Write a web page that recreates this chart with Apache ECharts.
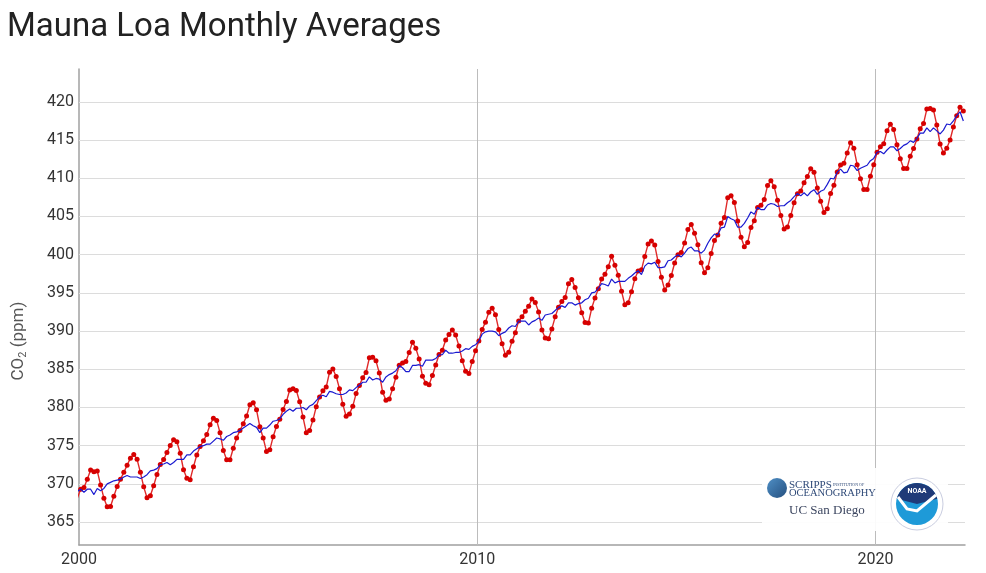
<!DOCTYPE html>
<html>
<head>
<meta charset="utf-8">
<title>Mauna Loa Monthly Averages</title>
<script src="https://cdn.jsdelivr.net/npm/echarts@6/dist/echarts.min.js"></script>
<style>
  html, body { margin: 0; padding: 0; background: #fff; }
  #chart { width: 986px; height: 573px; }
</style>
</head>
<body>
<div id="chart"></div>
<script>
// first month shown is Dec 1999, one value per month up to Mar 2022
const startYear = 1999
const startMonth = 12

// monthly mean CO2 (ppm), red line with dots
const monthlyMean = [
  368.15,
  369.29, 369.54, 370.60, 371.82, 371.58, 371.70, 369.86, 368.13, 367.00, 367.03, 368.37, 369.67, // 2000
  370.59, 371.51, 372.43, 373.37, 373.85, 373.21, 371.51, 369.61, 368.18, 368.45, 369.76, 371.24, // 2001
  372.53, 373.20, 374.12, 375.02, 375.76, 375.52, 374.01, 371.85, 370.75, 370.55, 372.25, 373.79, // 2002
  374.88, 375.64, 376.45, 377.73, 378.60, 378.28, 376.70, 374.38, 373.17, 373.15, 374.66, 375.99, // 2003
  377.00, 377.87, 378.88, 380.35, 380.62, 379.69, 377.47, 376.01, 374.25, 374.46, 376.16, 377.51, // 2004
  378.46, 379.73, 380.77, 382.29, 382.45, 382.21, 380.74, 378.74, 376.70, 377.00, 378.35, 380.11, // 2005
  381.38, 382.19, 382.67, 384.61, 385.03, 384.05, 382.46, 380.41, 378.85, 379.13, 380.15, 381.82, // 2006
  382.89, 383.90, 384.58, 386.50, 386.56, 386.10, 384.50, 381.99, 380.96, 381.12, 382.45, 383.95, // 2007
  385.52, 385.82, 386.03, 387.21, 388.54, 387.76, 386.36, 384.09, 383.18, 382.99, 384.19, 385.56, // 2008
  386.94, 387.48, 388.82, 389.55, 390.14, 389.48, 388.03, 386.11, 384.74, 384.43, 386.02, 387.42, // 2009
  388.71, 390.20, 391.17, 392.46, 393.00, 392.15, 390.20, 388.35, 386.85, 387.24, 388.67, 389.79, // 2010
  391.33, 391.86, 392.60, 393.25, 394.19, 393.74, 392.51, 390.13, 389.08, 389.00, 390.28, 391.86, // 2011
  393.12, 393.86, 394.40, 396.18, 396.74, 395.71, 394.36, 392.39, 391.11, 391.05, 392.98, 394.34, // 2012
  395.55, 396.80, 397.43, 398.41, 399.78, 398.60, 397.32, 395.20, 393.45, 393.70, 395.16, 396.84, // 2013
  397.85, 398.01, 399.77, 401.38, 401.78, 401.25, 399.10, 397.03, 395.38, 396.03, 397.28, 398.91, // 2014
  399.98, 400.28, 401.54, 403.28, 403.96, 402.80, 401.31, 398.93, 397.63, 398.29, 400.16, 401.85, // 2015
  402.56, 404.12, 404.87, 407.45, 407.72, 406.83, 404.41, 402.27, 401.05, 401.59, 403.55, 404.45, // 2016
  406.17, 406.46, 407.22, 409.04, 409.69, 408.88, 407.12, 405.13, 403.37, 403.63, 405.12, 406.81, // 2017
  407.96, 408.32, 409.41, 410.24, 411.24, 410.79, 408.71, 406.99, 405.51, 406.00, 408.02, 409.07, // 2018
  410.83, 411.75, 411.97, 413.32, 414.66, 413.92, 411.77, 409.95, 408.54, 408.53, 410.27, 411.76, // 2019
  413.40, 414.11, 414.51, 416.21, 417.07, 416.39, 414.38, 412.55, 411.29, 411.28, 412.89, 413.89, // 2020
  415.15, 416.47, 417.16, 419.05, 419.13, 418.94, 416.96, 414.47, 413.30, 413.93, 415.01, 416.71, // 2021
  418.19, 419.28, 418.81                                                                          // 2022
]

// seasonally adjusted values, blue line
const deseasonalized = [
  369.0,
  369.3, 368.9, 369.3, 369.3, 368.6, 369.4, 369.1, 369.4, 370.0, 370.2, 370.4, 370.5, // 2000
  370.6, 370.9, 371.1, 370.9, 370.9, 370.9, 370.7, 370.9, 371.2, 371.7, 371.8, 372.0, // 2001
  372.5, 372.6, 372.8, 372.5, 372.8, 373.2, 373.2, 373.2, 373.8, 373.8, 374.3, 374.6, // 2002
  374.9, 375.0, 375.2, 375.2, 375.6, 376.0, 375.9, 375.7, 376.2, 376.4, 376.7, 376.8, // 2003
  377.0, 377.3, 377.6, 377.9, 377.6, 377.4, 376.7, 377.3, 377.3, 377.7, 378.2, 378.3, // 2004
  378.5, 379.1, 379.5, 379.8, 379.5, 379.9, 379.9, 380.0, 379.7, 380.2, 380.4, 380.9, // 2005
  381.4, 381.6, 381.4, 382.1, 382.0, 381.8, 381.7, 381.7, 381.9, 382.3, 382.2, 382.6, // 2006
  382.9, 383.3, 383.3, 384.0, 383.6, 383.8, 383.7, 383.3, 384.0, 384.3, 384.5, 384.8, // 2007
  385.5, 385.2, 384.7, 384.7, 385.5, 385.5, 385.6, 385.4, 386.2, 386.2, 386.2, 386.4, // 2008
  386.9, 386.9, 387.5, 387.1, 387.1, 387.2, 387.2, 387.4, 387.7, 387.6, 388.0, 388.2, // 2009
  388.7, 389.6, 389.9, 390.0, 390.0, 389.9, 389.4, 389.7, 389.9, 390.4, 390.7, 390.6, // 2010
  391.3, 391.3, 391.3, 390.8, 391.2, 391.4, 391.7, 391.4, 392.1, 392.2, 392.3, 392.7, // 2011
  393.1, 393.3, 393.1, 393.7, 393.7, 393.4, 393.6, 393.7, 394.1, 394.3, 395.0, 395.1, // 2012
  395.6, 396.2, 396.1, 395.9, 396.8, 396.3, 396.5, 396.5, 396.5, 396.9, 397.2, 397.6, // 2013
  397.9, 397.4, 398.5, 398.9, 398.8, 399.0, 398.3, 398.3, 398.4, 399.2, 399.3, 399.7, // 2014
  400.0, 399.7, 400.2, 400.8, 401.0, 400.5, 400.5, 400.2, 400.6, 401.5, 402.2, 402.7, // 2015
  402.6, 403.5, 403.6, 405.0, 404.7, 404.5, 403.6, 403.6, 404.1, 404.8, 405.6, 405.3, // 2016
  406.2, 405.9, 405.9, 406.5, 406.7, 406.6, 406.3, 406.4, 406.4, 406.8, 407.1, 407.6, // 2017
  408.0, 407.7, 408.1, 407.7, 408.2, 408.5, 407.9, 408.3, 408.5, 409.2, 410.0, 409.9, // 2018
  410.8, 411.2, 410.7, 410.8, 411.7, 411.6, 411.0, 411.3, 411.5, 411.7, 412.3, 412.6, // 2019
  413.4, 413.5, 413.2, 413.7, 414.1, 414.1, 413.6, 413.9, 414.3, 414.5, 414.9, 414.7, // 2020
  415.2, 415.9, 415.9, 416.6, 416.1, 416.6, 416.2, 415.8, 416.3, 417.1, 417.0, 417.5, // 2021
  418.2, 418.7, 417.5                                                                 // 2022
]

const yTicks = [365, 370, 375, 380, 385, 390, 395, 400, 405, 410, 415, 420]
const xTicks = [2000, 2010, 2020]
const xGridYears = [2010, 2020]

// mid-month decimal dates
const dates = monthlyMean.map((_, i) => startYear + (startMonth - 1 + i + 0.5) / 12)
const redData = monthlyMean.map((v, i) => [dates[i], v])
const blueData = deseasonalized.map((v, i) => [dates[i], v])

const FONT = 'Roboto, "Noto Sans", sans-serif'
const SERIF = '"Liberation Serif", "DejaVu Serif", serif'

const chart = echarts.init(document.getElementById('chart'), null, { renderer: 'canvas' })

chart.setOption({
  animation: false,
  backgroundColor: '#fff',
  title: {
    text: 'Mauna Loa Monthly Averages',
    left: 2,
    top: 6,
    textStyle: { fontFamily: FONT, fontSize: 33, fontWeight: 'normal', color: '#222' },
  },
  grid: { left: 79, right: 21, top: 69, bottom: 28, containLabel: false },
  xAxis: {
    type: 'value',
    min: 2000,
    max: 2022.25,
    axisLine: { lineStyle: { color: '#a0a0a0', width: 1.5 } },
    axisTick: { show: false },
    splitLine: { show: false },
    axisLabel: {
      customValues: xTicks,
      formatter: v => String(v),
      color: '#333',
      fontFamily: FONT,
      fontSize: 16,
      margin: 7,
    },
  },
  yAxis: {
    type: 'value',
    min: 362,
    max: 424.3,
    axisLine: { show: true, lineStyle: { color: '#a0a0a0', width: 1.5 } },
    axisTick: { show: false },
    splitLine: { show: false },
    axisLabel: {
      customValues: yTicks,
      color: '#333',
      fontFamily: FONT,
      fontSize: 16,
      margin: 5,
    },
  },
  series: [
    {
      // grid lines only
      type: 'line',
      data: [],
      silent: true,
      markLine: {
        silent: true,
        z: 1,
        animation: false,
        symbol: ['none', 'none'],
        label: { show: false },
        lineStyle: { color: '#dcdcdc', width: 1, type: 'solid' },
        emphasis: { disabled: true },
        data: yTicks.map(v => ({ yAxis: v }))
          .concat(xGridYears.map(v => ({ xAxis: v, lineStyle: { color: '#bcbcbc', width: 1, type: 'solid' } }))),
      },
    },
    {
      name: 'Monthly mean',
      type: 'line',
      z: 3,
      data: redData,
      symbol: 'circle',
      symbolSize: 5,
      showSymbol: true,
      itemStyle: { color: '#d60000' },
      lineStyle: { color: '#e02a2a', width: 1.4 },
    },
    {
      name: 'Deseasonalized',
      type: 'line',
      z: 4,
      data: blueData,
      showSymbol: false,
      symbol: 'none',
      lineStyle: { color: '#1a1ad0', width: 1.2 },
    },
  ],
  graphic: [
    {
      type: 'text',
      x: 19,
      y: 341,
      rotation: Math.PI / 2,
      style: {
        text: '{a|CO}{b|2}{a| (ppm)}',
        align: 'center',
        verticalAlign: 'middle',
        rich: {
          a: { fontFamily: FONT, fontSize: 17, fill: '#555', verticalAlign: 'middle', lineHeight: 20 },
          b: { fontFamily: FONT, fontSize: 11, fill: '#555', verticalAlign: 'bottom', lineHeight: 20 },
        },
      },
    },
    // logos panel
    { type: 'rect', z: 10, shape: { x: 762, y: 468, width: 186, height: 63 }, style: { fill: 'rgba(255,255,255,0.92)' } },
    {
      type: 'circle', z: 11, shape: { cx: 777, cy: 488, r: 10 },
      style: {
        fill: new echarts.graphic.LinearGradient(0, 0, 1, 1, [
          { offset: 0, color: '#4f8fc6' },
          { offset: 1, color: '#25507f' },
        ]),
      },
    },
    { type: 'text', z: 11, x: 789, y: 480, style: { text: 'SCRIPPS', font: '11px ' + SERIF, fill: '#2f4a78' } },
    { type: 'text', z: 11, x: 833, y: 483, style: { text: 'INSTITUTION OF', font: '4px ' + SERIF, fill: '#2f4a78' } },
    { type: 'text', z: 11, x: 789, y: 488, style: { text: 'OCEANOGRAPHY', font: '10.5px ' + SERIF, fill: '#2f4a78' } },
    { type: 'text', z: 11, x: 789, y: 504, style: { text: 'UC San Diego', font: '13px ' + SERIF, fill: '#3c4660' } },
    { type: 'circle', z: 11, shape: { cx: 917, cy: 504, r: 26 }, style: { fill: '#fff', stroke: '#c9cde0', lineWidth: 1 } },
    { type: 'circle', z: 12, shape: { cx: 917, cy: 504, r: 21 }, style: { fill: '#1e9ad8' } },
    { type: 'sector', z: 13, shape: { cx: 917, cy: 504, r: 21, r0: 0, startAngle: Math.PI * 1.08, endAngle: Math.PI * 1.92 }, style: { fill: '#1f3a78' } },
    { type: 'polyline', z: 14, shape: { points: [[898, 497], [907, 509], [917, 511], [936, 495]] }, style: { stroke: '#fff', lineWidth: 3, fill: null } },
    { type: 'text', z: 14, x: 917, y: 491, style: { text: 'NOAA', font: 'bold 7px ' + FONT, fill: '#fff', align: 'center', verticalAlign: 'middle' } },
  ],
})
</script>
</body>
</html>
